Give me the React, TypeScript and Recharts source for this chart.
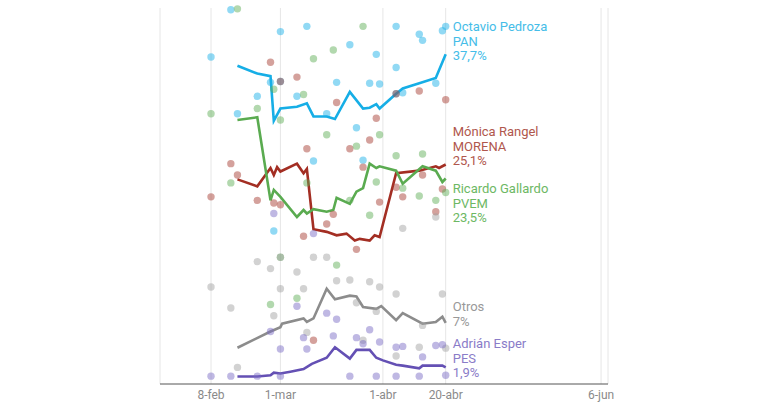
import { ComposedChart, Line, Scatter, XAxis, YAxis, CartesianGrid } from "recharts";

// x = day of year (8-feb = 39), y = % de intención de voto
const tickDays = [39, 60, 91, 110, 157];
const tickLabels: Record<number, string> = { 39: "8-feb", 60: "1-mar", 91: "1-abr", 110: "20-abr", 157: "6-jun" };

const panTrend = [
  [47, 36.4], [53, 35.5], [57, 35.2], [58, 30.1], [60, 31.5], [65, 31.7], [68, 32.1], [70, 30.6],
  [74, 30.6], [76.5, 30.3], [81, 33.4], [85, 31.5], [87, 31.6], [89, 32.0], [90, 31.5], [95, 33.2],
  [97, 33.8], [102, 34.4], [107, 35.0], [110, 37.7],
];
const morenaTrend = [
  [47, 23.4], [53, 22.6], [57, 24.7], [58, 23.9], [59, 24.8], [60, 24.3], [65, 25.2], [67, 24.1],
  [68, 24.6], [70, 17.7], [74, 17.4], [77, 17.0], [80, 17.2], [82.5, 16.4], [84, 16.6], [87, 16.4],
  [88.5, 17.0], [90, 16.8], [95, 24.1], [102, 24.4], [107, 24.9], [108, 24.7], [110, 25.1],
];
const pvemTrend = [
  [47, 30.2], [53, 30.5], [57, 21.0], [58, 22.2], [60, 21.4], [65, 19.1], [67, 19.9], [68, 19.5],
  [70, 20.0], [74, 19.7], [76, 19.9], [77, 21.3], [81, 20.6], [83, 22.0], [85, 22.4], [87, 25.2],
  [89, 24.7], [90, 24.9], [95, 24.4], [97, 22.9], [103, 24.9], [107, 24.4], [109, 23.1], [110, 23.5],
];
const otrosTrend = [
  [47, 4.15], [57, 6.0], [60, 6.5], [60.5, 6.9], [67, 7.5], [68, 7.1], [70, 7.5], [74, 10.9],
  [76.5, 9.7], [81, 10.1], [83, 10.0], [85, 8.8], [89, 8.6], [90.5, 8.9], [95, 7.3], [97, 8.1],
  [103, 6.9], [107, 7.1], [109, 7.7], [110, 7.0],
];
const pesTrend = [
  [47, 0.85], [53, 0.85], [57, 1.0], [58, 1.3], [60, 1.2], [63, 1.4], [67, 1.7], [69.5, 2.3],
  [74, 3.0], [76.5, 4.2], [81, 2.9], [83, 3.9], [87, 3.9], [89, 3.0], [91, 2.7], [95, 2.2],
  [97, 2.1], [102, 1.8], [103, 2.1], [109, 2.1], [110, 1.9],
];

// encuestas individuales
const panPolls = [
  [45, 42.8], [39, 37.4], [60, 40.3], [68, 40.9], [81, 38.8], [89, 37.7], [95, 40.9], [95, 36.2],
  [102, 40.0], [103, 39.3], [109, 40.4], [110, 40.9], [53, 32.9], [57, 34.5], [47, 30.9], [65, 32.9],
  [77, 34.5], [87, 34.4], [90, 34.3], [74, 30.9], [83, 29.3], [97, 33.3], [107, 34.4], [70, 25.5],
  [85, 25.6], [58, 17.5], [60, 34.6], [95, 33.2],
];
const morenaPolls = [
  [57, 36.8], [60, 34.6], [65, 35.1], [77, 32.2], [89, 30.4], [95, 33.2], [102, 33.5], [110, 32.5],
  [87, 27.9], [81, 26.9], [68, 26.9], [45, 25.2], [47, 23.9], [39, 21.4], [53, 21.0], [58, 20.7],
  [60, 20.5], [85, 24.8], [90, 20.8], [97, 21.4], [95, 22.5], [103, 23.9], [109, 22.3], [107, 19.7],
  [76, 19.4], [74, 18.3], [67, 16.9], [83, 15.4], [70, 5.0],
];
const pvemPolls = [
  [47, 42.9], [85, 40.9], [70, 37.2], [76, 38.2], [39, 30.9], [53, 31.5], [58, 33.7], [67, 33.1],
  [60, 30.2], [74, 28.5], [90, 28.5], [83, 27.2], [45, 23.0], [68, 23.0], [89, 23.1], [95, 26.1],
  [103, 26.3], [97, 22.4], [102, 21.5], [107, 21.0], [110, 21.9], [81, 21.0], [87, 19.3], [60, 14.5],
  [77, 13.6], [57, 9.1], [65, 9.8],
];
const otrosPolls = [
  [53, 14.0], [60, 14.5], [70, 14.5], [74, 14.5], [57, 13.2], [65, 12.8], [39, 11.1], [60, 10.9],
  [67, 10.9], [77, 11.8], [81, 11.9], [87, 11.7], [90, 11.1], [95, 10.3], [109, 10.3], [45, 8.7],
  [58, 7.8], [83, 9.3], [89, 8.3], [103, 6.7], [68, 5.9], [85, 5.0], [95, 3.2], [102, 4.2],
  [110, 4.1], [47, 1.9], [97, 17.8], [107, 19.1],
];
const pesPolls = [
  [58, 19.5], [70, 17.2], [65, 8.9], [74, 8.1], [77, 7.4], [57, 6.0], [67, 5.3], [76, 5.5],
  [83, 5.3], [87, 6.2], [85, 4.6], [90, 4.8], [60, 4.0], [68, 4.0], [95, 4.2], [97, 4.3],
  [107, 4.4], [109, 4.5], [103, 3.1], [39, 0.9], [45, 0.9], [53, 0.9], [60, 0.9], [81, 0.9],
  [89, 0.9], [95, 0.9], [102, 0.9], [110, 1.0],
];

const toXY = (rows: number[][]) => rows.map(([x, y]) => ({ x, y }));

const series = [
  { key: "pan", trend: panTrend, polls: panPolls, line: "#16aee6", dot: "#1ab0e8", text: "#45bde8", label: ["Octavio Pedroza", "PAN", "37,7%"], dy: -23 },
  { key: "morena", trend: morenaTrend, polls: morenaPolls, line: "#a32e23", dot: "#a63a30", text: "#b0574d", label: ["Mónica Rangel", "MORENA", "25,1%"], dy: -28.5 },
  { key: "pvem", trend: pvemTrend, polls: pvemPolls, line: "#5aab50", dot: "#5fae55", text: "#6db864", label: ["Ricardo Gallardo", "PVEM", "23,5%"], dy: 14.5 },
  { key: "otros", trend: otrosTrend, polls: otrosPolls, line: "#8c8c8c", dot: "#a0a0a0", text: "#999999", label: ["Otros", "7%"], dy: -11.7 },
  { key: "pes", trend: pesTrend, polls: pesPolls, line: "#6450b4", dot: "#7a6ac4", text: "#8a7cc8", label: ["Adrián Esper", "PES", "1,9%"], dy: -19.3 },
];

export default function App() {
  return (
    <div style={{ position: "absolute", left: 0, top: 0, width: 768, height: 402, background: "#fff", fontFamily: "Roboto, sans-serif" }}>
      <ComposedChart width={768} height={402} margin={{ top: 8, right: 160, bottom: 0, left: 160 }}>
        <CartesianGrid horizontal={false} stroke="#e6e6e6" />
        <XAxis
          dataKey="x"
          type="number"
          domain={[23.57, 159.1]}
          ticks={tickDays}
          tickFormatter={(v) => tickLabels[v]}
          tick={{ fontSize: 12, fill: "#8a8a8a", dy: -2 }}
          tickLine={false}
          axisLine={{ stroke: "#555" }}
          height={18}
        />
        <YAxis dataKey="y" type="number" domain={[0, 43]} hide />

        {series.map((s) => (
          <Scatter
            key={s.key + "-polls"}
            data={toXY(s.polls)}
            isAnimationActive={false}
            shape={(p: any) => <circle cx={p.cx} cy={p.cy} r={3.7} fill={s.dot} fillOpacity={0.48} />}
          />
        ))}

        {series.map((s) => {
          const last = s.trend.length - 1;
          return (
            <Line
              key={s.key}
              data={toXY(s.trend)}
              dataKey="y"
              type="linear"
              stroke={s.line}
              strokeWidth={2.6}
              isAnimationActive={false}
              activeDot={false}
              dot={(p: any) =>
                p.index === last ? (
                  <text key={s.key + "-lbl"} x={p.cx + 7} y={p.cy + s.dy} fill={s.text} fontSize={13} fontFamily="Roboto, sans-serif">
                    {s.label.map((t, i) => (
                      <tspan key={i} x={p.cx + 7} dy={i === 0 ? 0 : 14.5}>
                        {t}
                      </tspan>
                    ))}
                  </text>
                ) : (
                  <g key={s.key + "-d" + p.index} />
                )
              }
            />
          );
        })}
      </ComposedChart>
    </div>
  );
}
